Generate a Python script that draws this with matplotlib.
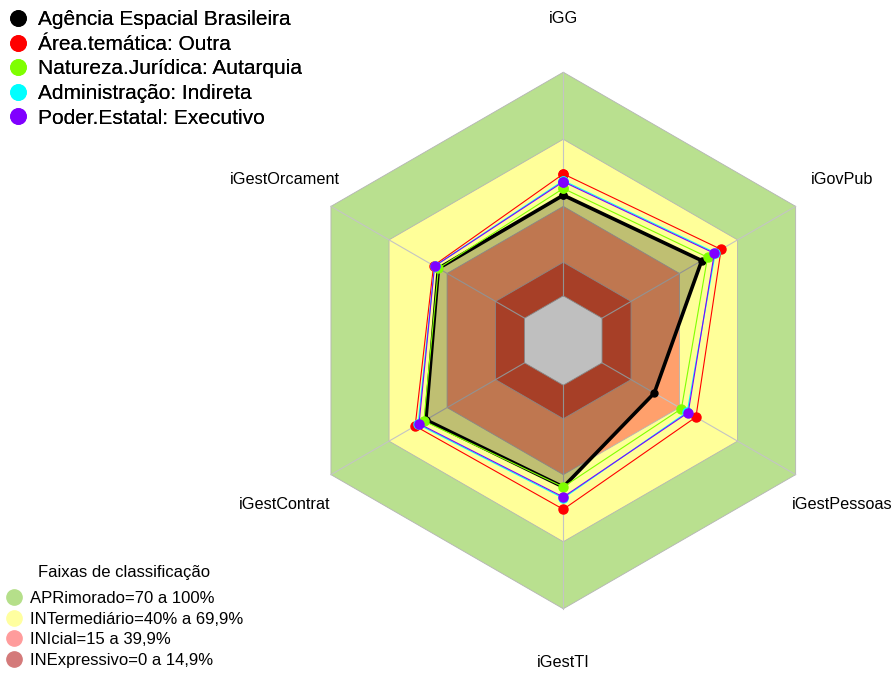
import numpy as np
import matplotlib.pyplot as plt
from matplotlib.lines import Line2D

plt.rcParams['font.family'] = ['Liberation Sans', 'DejaVu Sans']

# eixos do radar (sentido horario a partir do topo)
eixos = ['iGG', 'iGovPub', 'iGestPessoas', 'iGestTI', 'iGestContrat', 'iGestOrcament']

series = ['Agência Espacial Brasileira', 'Área.temática: Outra',
          'Natureza.Jurídica: Autarquia', 'Administração: Indireta',
          'Poder.Estatal: Executivo']
agencia = [45, 51.5, 27, 45.5, 51, 44.5]
area = [54.5, 61.5, 48.5, 55.5, 56.5, 47]
natureza = [48, 54.5, 41, 45.5, 52, 44.5]
administracao = [51.5, 58.5, 44, 50.5, 55, 46.5]
poder = [51, 58, 44.5, 50, 54.5, 46.5]

faixas = ['APRimorado=70 a 100%', 'INTermediário=40% a 69,9%',
          'INIcial=15 a 39,9%', 'INExpressivo=0 a 14,9%']
limites = [100, 70, 40, 15, 0]

vmin, vmax = -20, 100
R = 268.3  # pixels per unit radius
cx, cy = 563.3, 340.5
W, H = 896, 674

cores_series = ['black', '#ff0000', '#7fff00', '#00ffff', '#8000ff']
cores_faixas = ['#b9e08f', '#ffff99', '#ffa06c', '#e05535', 'white']
cores_leg = ['#b5df8a', '#ffffa0', '#ff9c9c', '#d47a7a']

ang = np.deg2rad(90 - 60 * np.arange(len(eixos)))


def rad(v):
    return (np.asarray(v, dtype=float) - vmin) / (vmax - vmin)


def xy(vals):
    r = rad(vals)
    x = r * np.cos(ang)
    y = r * np.sin(ang)
    return np.append(x, x[0]), np.append(y, y[0])


fig = plt.figure(figsize=(W / 100, H / 100), dpi=100)
ax = fig.add_axes([0, 0, 1, 1])
ax.set_xlim(-cx / R, (W - cx) / R)
ax.set_ylim(-(H - cy) / R, cy / R)
ax.axis('off')

# faixas de classificacao
for lim, c in zip(limites, cores_faixas):
    hx, hy = xy([lim] * 6)
    ax.fill(hx, hy, color=c, ec='#b4b4b4', lw=0.6, zorder=1)

# raios
r0 = rad(0)
for a in ang:
    ax.plot([r0 * np.cos(a), np.cos(a)], [r0 * np.sin(a), np.sin(a)],
            color='#c4c4c4', lw=0.8, zorder=2)

# poligono da agencia (preenchido)
px_, py_ = xy(agencia)
ax.fill(px_, py_, color='black', alpha=0.25, lw=0, zorder=3)

dados = [agencia, area, natureza, administracao, poder]
for i, (vals, c) in enumerate(zip(dados, cores_series)):
    x, y = xy(vals)
    if i == 0:
        ax.plot(x, y, color=c, lw=2.6, marker='o', ms=5, zorder=4)
    else:
        ax.plot(x, y, color=c, lw=0.8, marker='o', ms=6.5, zorder=4 + i)

# rotulos dos eixos
for nome, a in zip(eixos, ang):
    dy = -0.012 if np.sin(a) < -0.1 and np.sin(a) > -0.9 else 0
    ax.text(1.2 * np.cos(a), 1.2 * np.sin(a) + dy, nome, ha='center',
            va='center', fontsize=11.7)

# legenda das series
h1 = [Line2D([], [], ls='', marker='o', ms=11, color=c) for c in cores_series]
leg1 = fig.legend(h1, series, loc='upper left',
                  bbox_to_anchor=(9.7 / W, 1 - 10.2 / H),
                  frameon=False, fontsize=15, handlelength=0.8,
                  handletextpad=0.57, labelspacing=0.27, borderpad=0,
                  borderaxespad=0)

# legenda das faixas
fig.text(124 / W, 1 - 572 / H, 'Faixas de classificação', ha='center',
         va='center', fontsize=12)
h2 = [Line2D([], [], ls='', marker='o', ms=11, color=c) for c in cores_leg]
leg2 = ax.legend(h2, faixas, loc='lower left',
                 bbox_to_anchor=(7.3 / W, 6.3 / H),
                 bbox_transform=fig.transFigure, frameon=False, fontsize=12,
                 handlelength=0.8, handletextpad=0.56, labelspacing=0.33,
                 borderpad=0, borderaxespad=0)
fig.add_artist(leg1)

fig.savefig('out.png', dpi=100)
